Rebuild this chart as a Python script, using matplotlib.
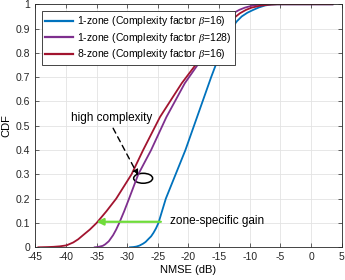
import numpy as np
import matplotlib
matplotlib.use("Agg")
import matplotlib.pyplot as plt
from matplotlib.patches import Ellipse

plt.rcParams['font.family'] = ['Liberation Sans', 'DejaVu Sans']
plt.rcParams['axes.unicode_minus'] = False
plt.rcParams['mathtext.fontset'] = 'custom'
plt.rcParams['mathtext.it'] = 'Liberation Serif:italic'

# CDF curves (NMSE in dB, CDF)
blue_x = [-29.55, -29.0, -28.5, -28.0, -27.4, -27.0, -26.5, -26.1, -25.7, -25.3, -24.9,
          -24.3, -23.7, -22.1, -20.5, -19.1, -17.7, -16.3, -14.8, -13.0, -12.1,
          -11.3, -10.4, -9.5, -8.5, -7.5, -6.5, -5.5, 3.5]
blue_y = [0.0, 0.001, 0.003, 0.007, 0.015, 0.022, 0.035, 0.045, 0.06, 0.078, 0.1,
          0.15, 0.2, 0.3, 0.4, 0.5, 0.6, 0.7, 0.8, 0.9, 0.93,
          0.95, 0.965, 0.976, 0.987, 0.995, 0.999, 1.0, 1.0]

purple_x = [-35.3, -34.9, -34.5, -34.0, -33.6, -33.0, -32.3, -31.8, -31.3, -30.5,
            -29.7, -28.2, -26.1, -23.6, -20.6, -16.8, -14.8, -13.7, -12.7, -11.7,
            -10.8, -9.5, -8.0, 3.5]
purple_y = [0.0, 0.001, 0.003, 0.006, 0.012, 0.025, 0.05, 0.073, 0.1, 0.148,
            0.2, 0.3, 0.4, 0.536, 0.675, 0.812, 0.9, 0.94, 0.963, 0.977,
            0.986, 0.995, 1.0, 1.0]

red_x = [-44.5, -43.0, -42.0, -41.0, -39.9, -38.8, -38.0, -37.2, -36.1, -35.0,
         -33.4, -31.8, -29.3, -27.4, -24.65, -21.1, -17.0, -14.3, -12.9, -11.6,
         -10.6, -9.7, -8.3, -7.0, -5.5, 3.5]
red_y = [0.0, 0.001, 0.002, 0.004, 0.008, 0.02, 0.033, 0.05, 0.073, 0.1,
         0.148, 0.2, 0.3, 0.4, 0.536, 0.675, 0.812, 0.9, 0.937, 0.963,
         0.977, 0.986, 0.994, 0.998, 1.0, 1.0]

labels = [r'1-zone (Complexity factor $\it{\beta}$=16)',
          r'1-zone (Complexity factor $\it{\beta}$=128)',
          r'8-zone (Complexity factor $\it{\beta}$=16)']
colors = ['#0072BD', '#7E2F8E', '#A2142F']

fig = plt.figure(figsize=(3.45, 2.8), dpi=100)
ax = fig.add_axes([0.1023, 0.1168, 0.888, 0.868])

ax.plot(blue_x, blue_y, color=colors[0], lw=1.3, label=labels[0])
ax.plot(purple_x, purple_y, color=colors[1], lw=1.3, label=labels[1])
ax.plot(red_x, red_y, color=colors[2], lw=1.3, label=labels[2])

ax.set_xlim(-45, 5)
ax.set_ylim(0, 1)
ax.set_xticks(np.arange(-45, 6, 5))
ax.set_yticks(np.arange(0, 1.01, 0.1))
ax.set_yticklabels(['0'] + ['%.1f' % v for v in np.arange(0.1, 0.95, 0.1)] + ['1'])
ax.tick_params(direction='in', top=True, right=True, labelsize=7.5, length=3,
               width=0.5, colors='#262626')
ax.grid(True, color='#e3e3e3', lw=0.6)
ax.set_axisbelow(True)
for s in ax.spines.values():
    s.set_color('#262626')
    s.set_linewidth(0.6)

ax.set_xlabel('NMSE (dB)', fontsize=8, labelpad=2)
ax.set_ylabel('CDF', fontsize=8, labelpad=3)

leg = ax.legend(loc='upper left', bbox_to_anchor=(0.022, 0.972), borderaxespad=0,
                fontsize=7.5, fancybox=False, framealpha=1, edgecolor='#262626',
                handlelength=2.7, handletextpad=0.4, borderpad=0.3, labelspacing=0.25)
leg.get_frame().set_linewidth(0.6)
for ln in leg.get_lines():
    ln.set_linewidth(1.6)

# annotations
ax.text(-39.2, 0.532, 'high complexity', fontsize=8.5, va='center', ha='left')
ax.annotate('', xy=(-28.2, 0.295), xytext=(-32.3, 0.49),
            arrowprops=dict(arrowstyle='-|>', linestyle=(0, (4, 3)), color='black',
                            lw=1.0, mutation_scale=8, shrinkA=0, shrinkB=0))
ax.add_patch(Ellipse((-27.4, 0.284), 3.1, 0.041, fill=False, ec='black', lw=1.1))

ax.annotate('', xy=(-35.0, 0.105), xytext=(-24.5, 0.105),
            arrowprops=dict(arrowstyle='-|>', color='#6fdc3a', lw=1.6,
                            mutation_scale=10, shrinkA=0, shrinkB=0))
ax.text(-23.0, 0.108, 'zone-specific gain', fontsize=8.5, va='center', ha='left')

fig.savefig('out.png', dpi=100)
